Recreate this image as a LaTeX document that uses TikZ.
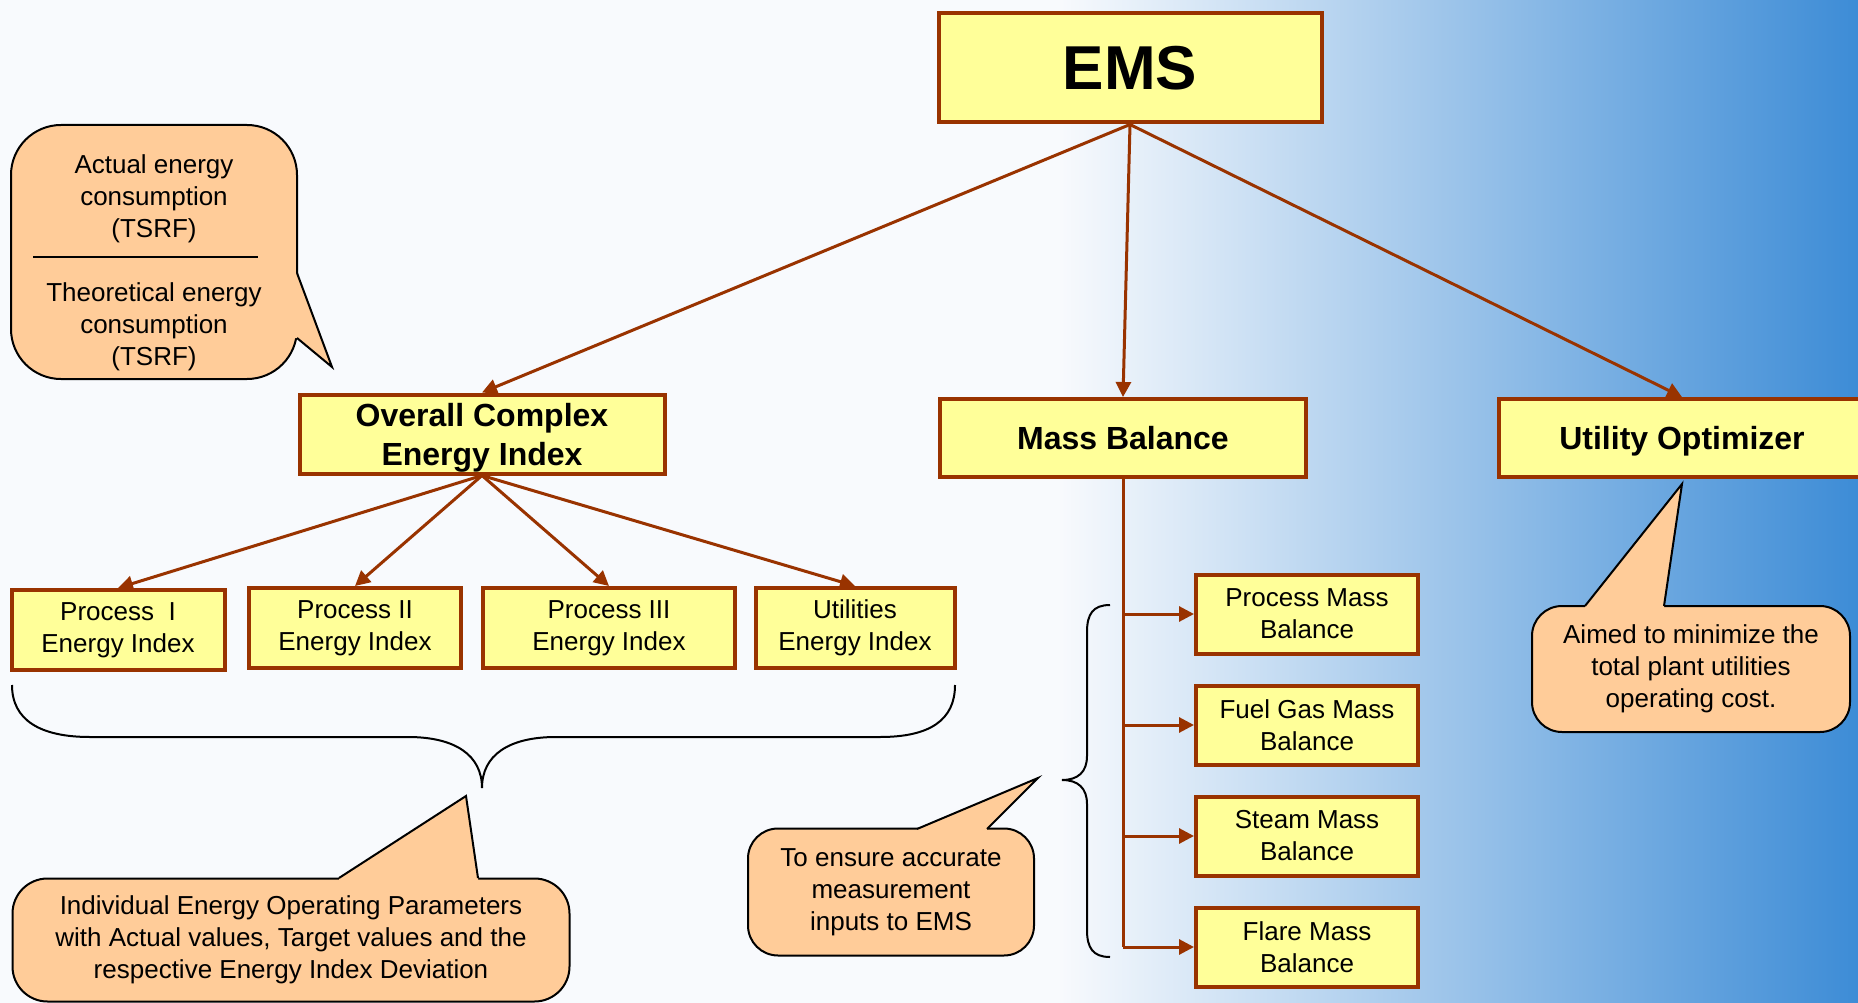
\documentclass[tikz,border=0pt]{standalone}
\usepackage{fontspec}
\setmainfont{Liberation Sans}
\usepackage{xcolor}
\usetikzlibrary{arrows.meta, positioning, calc}

\definecolor{boxfill}{HTML}{FFFF99}
\definecolor{boxline}{HTML}{993300}
\definecolor{notefill}{HTML}{FFCC99}
\definecolor{bgwhite}{HTML}{F8FAFD}
\definecolor{bgmid}{HTML}{A6D1F0}
\definecolor{bgblue}{HTML}{3D8CD6}

\begin{document}
\begin{tikzpicture}[
  x=1pt, y=-1pt,
  node distance=28pt,
  box/.style={rectangle, draw=boxline, line width=4pt, fill=boxfill, align=center,
              inner sep=0pt, font=\fontsize{26}{32}\selectfont},
  head/.style={box, minimum width=366pt, minimum height=78pt, text depth=0pt,
               font=\bfseries\fontsize{32}{39}\selectfont},
  energy/.style={box, minimum height=80pt},
  mass/.style={box, minimum width=222pt, minimum height=79pt},
  bubble/.style={rectangle, draw=black, line width=2pt, fill=notefill, align=center,
                 inner sep=0pt, font=\fontsize{26}{32}\selectfont},
  notetext/.style={align=center, inner sep=0pt, font=\fontsize{26}{32}\selectfont},
  arrow/.style={-{Triangle[length=15pt, width=15pt]}, line width=3pt, draw=boxline},
  brace/.style={draw=black, line width=2pt}
]
\useasboundingbox (0,0) rectangle (1858,1003);

% background
\fill[bgwhite] (0,0) rectangle (1858,1003);
\shade[left color=bgwhite, middle color=bgmid, right color=bgblue] (1060,0) rectangle (1858,1003);

% main boxes
\node[box, minimum width=383pt, minimum height=109pt,
      font=\bfseries\fontsize{62}{70}\selectfont] (ems) at (1130,68) {EMS};
\node[head, minimum width=365pt, minimum height=79pt] (overall) at (482,434) {Overall Complex\\Energy Index};
\node[head] (massbal) at (1123,438) {Mass Balance};
\node[head] (utilopt) at (1682,438) {Utility Optimizer};

% energy indices
\node[energy, minimum width=213pt] (proc1) at (118,630) {Process\ \ I\\Energy Index};
\node[energy, minimum width=212pt] (proc2) at (355,628) {Process II\\Energy Index};
\node[energy, minimum width=252pt] (proc3) at (609,628) {Process III\\Energy Index};
\node[energy, minimum width=199pt] (utilidx) at (855,628) {Utilities\\Energy Index};

% mass balances
\node[mass] (pmb) at (1307,614) {Process Mass\\Balance};
\node[mass, below=of pmb] (fgmb) {Fuel Gas Mass\\Balance};
\node[mass, below=of fgmb] (smb) {Steam Mass\\Balance};
\node[mass, below=of smb] (fmb) {Flare Mass\\Balance};

% arrows from EMS
\draw[arrow] (ems.south) -- (overall.north);
\draw[arrow] (ems.south) -- (massbal.north);
\draw[arrow] (ems.south) -- (utilopt.north);

\foreach \n in {proc1,proc2,proc3,utilidx}
  \draw[arrow] (overall.south) -- (\n.north);

\draw[boxline, line width=3pt] (massbal.south) -- (massbal.south |- fmb.west);
\foreach \n in {pmb,fgmb,smb,fmb}
  \draw[arrow] (massbal.south |- \n.west) -- (\n.west);

% braces
\draw[brace] (12,685) .. controls (12,720) and (40,737) .. (90,737) -- (408,737)
  .. controls (455,737) and (482,755) .. (482,788)
  .. controls (482,755) and (509,737) .. (556,737) -- (880,737)
  .. controls (930,737) and (955,720) .. (955,685);
\draw[brace] (1110,605) .. controls (1093,605) and (1087,614) .. (1087,632) -- (1087,756)
  .. controls (1087,772) and (1078,780) .. (1062,780)
  .. controls (1078,780) and (1087,788) .. (1087,804) -- (1087,930)
  .. controls (1087,948) and (1093,957) .. (1110,957);

% callouts
\node[bubble, rounded corners=50pt, minimum width=286pt, minimum height=254pt] (ratio) at (154,252) {};
\node[notetext] (actual) at (154,199) {Actual energy\\consumption\\(TSRF)};
\node[notetext] (theory) at (154,327) {Theoretical energy\\consumption\\(TSRF)};
\draw[line width=1.5pt] (33,257) -- (258,257);
\coordinate (ratiotip) at (332,367);
\fill[notefill] (290,273) -- (297,273) -- (ratiotip) -- (297,338) -- (290,338) -- cycle;
\draw[line width=2pt] (297,273) -- (ratiotip) -- (297,338);

\node[bubble, rounded corners=35pt, minimum width=557pt, minimum height=123pt] (params) at (291,940)
  {Individual Energy Operating Parameters\\with Actual values, Target values and the\\respective Energy Index Deviation};
\coordinate (paramstip) at (466,796);
\fill[notefill] (339,885) -- (339,878) -- (paramstip) -- (478,878) -- (478,885) -- cycle;
\draw[line width=2pt] (339,878) -- (paramstip) -- (478,878);

\node[bubble, rounded corners=30pt, minimum width=286pt, minimum height=127pt] (ensure) at (891,892)
  {To ensure accurate\\measurement\\inputs to EMS};
\coordinate (ensuretip) at (1038,778);
\fill[notefill] (917,835) -- (917,829) -- (ensuretip) -- (987,829) -- (987,835) -- cycle;
\draw[line width=2pt] (917,829) -- (ensuretip) -- (987,829);

\node[bubble, rounded corners=30pt, minimum width=318pt, minimum height=126pt] (aimed) at (1691,669)
  {Aimed to minimize the\\total plant utilities\\operating cost.};
\coordinate (aimedtip) at (1682,484);
\fill[notefill] (1585,612) -- (1585,606) -- (aimedtip) -- (1664,606) -- (1664,612) -- cycle;
\draw[line width=2pt] (1585,606) -- (aimedtip) -- (1664,606);
\end{tikzpicture}
\end{document}
